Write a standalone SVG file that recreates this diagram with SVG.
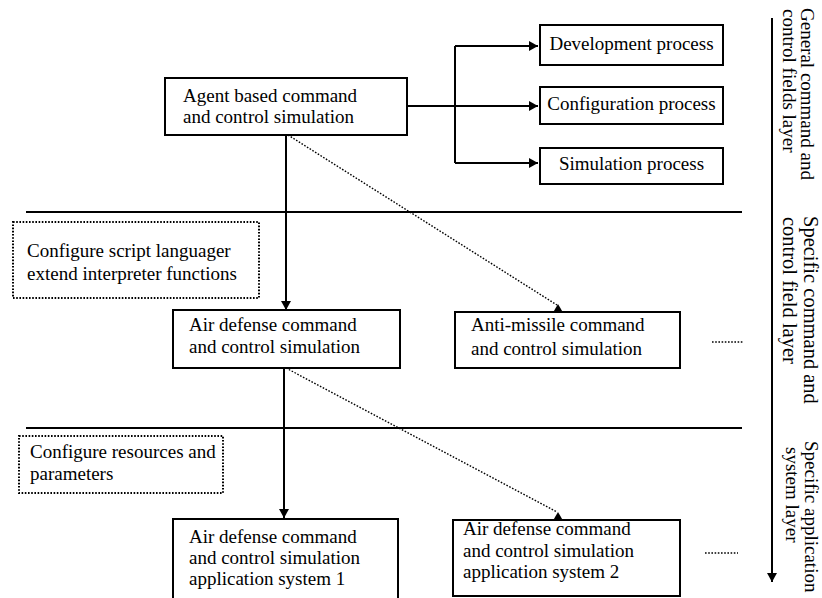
<svg xmlns="http://www.w3.org/2000/svg" width="822" height="598" viewBox="0 0 822 598">
<defs>
<style>
text{font-family:'Liberation Serif','DejaVu Serif',serif;font-size:19px;fill:#000}
.box{fill:#fff;stroke:#000;stroke-width:2}
.dbox{fill:none;stroke:#000;stroke-width:2;stroke-dasharray:1.6 1.6}
.ln{fill:none;stroke:#000;stroke-width:2}
.dot{fill:none;stroke:#000;stroke-width:1.4;stroke-dasharray:1.6 1.6}
.mid{text-anchor:middle}
.big{font-size:20.5px}
</style>
<marker id="ah" markerWidth="10" markerHeight="10" refX="9" refY="5" orient="auto" markerUnits="userSpaceOnUse">
<path d="M0,0 L9,5 L0,10 Z" fill="#000"/>
</marker>
</defs>
<rect width="822" height="598" fill="#fff"/>

<g id="layers" font-family="Liberation Serif, serif">
<line class="ln" x1="26" y1="212" x2="742" y2="212"/>
<line class="ln" x1="26" y1="428" x2="742" y2="428"/>
<line class="ln" x1="772" y1="18" x2="772" y2="582" marker-end="url(#ah)"/>
<text transform="translate(801,8) rotate(90)">General command and</text>
<text transform="translate(783,9) rotate(90)">control fields layer</text>
<text class="big" transform="translate(804,216) rotate(90)">Specific command and</text>
<text class="big" transform="translate(783,217) rotate(90)">control field layer</text>
<text transform="translate(805,441) rotate(90)">Specific application</text>
<text transform="translate(786,447) rotate(90)">system layer</text>
</g>

<g id="connectors">
<polyline class="ln" points="407,106 455,106"/>
<polyline class="ln" points="455,106 538,106" marker-end="url(#ah)"/>
<polyline class="ln" points="455,46 455,163"/>
<polyline class="ln" points="455,46 538,46" marker-end="url(#ah)"/>
<polyline class="ln" points="455,163 538,163" marker-end="url(#ah)"/>
<line class="ln" x1="286" y1="135" x2="286" y2="310" marker-end="url(#ah)"/>
<line class="ln" x1="284" y1="368" x2="284" y2="518" marker-end="url(#ah)"/>
<line class="dot" x1="288" y1="135" x2="557" y2="305"/>
<line class="dot" x1="286" y1="368" x2="557" y2="512"/>
<path d="M553,312.5 L563,312.5 L558,304 Z" fill="#000"/>
<path d="M553,520.5 L563,520.5 L558,512 Z" fill="#000"/>
<line class="dot" x1="712" y1="342" x2="743" y2="342"/>
<line class="dot" x1="705" y1="553" x2="738" y2="553"/>
</g>

<g id="agent">
<rect class="box" x="165" y="78" width="242" height="57"/>
<text x="183" y="102">Agent based command</text>
<text x="183" y="123">and control simulation</text>
</g>
<g id="development">
<rect class="box" x="540" y="25" width="183" height="40"/>
<text class="mid" x="631.5" y="50">Development process</text>
</g>
<g id="configuration">
<rect class="box" x="540" y="87" width="183" height="37"/>
<text class="mid" x="631.5" y="110">Configuration process</text>
</g>
<g id="simulation">
<rect class="box" x="540" y="148" width="183" height="36"/>
<text class="mid" x="631.5" y="170">Simulation process</text>
</g>
<g id="script">
<rect class="dbox" x="13" y="222" width="246" height="76"/>
<text x="27" y="257">Configure script languager</text>
<text x="27" y="280">extend interpreter functions</text>
</g>
<g id="airdefense">
<rect class="box" x="173" y="310" width="227" height="58"/>
<text x="189" y="331">Air defense command</text>
<text x="189" y="353">and control simulation</text>
</g>
<g id="antimissile">
<rect class="box" x="455" y="312" width="225" height="56"/>
<text x="471" y="331">Anti-missile command</text>
<text x="471" y="355">and control simulation</text>
</g>
<g id="resources">
<rect class="dbox" x="19" y="436" width="204" height="57"/>
<text x="30" y="458">Configure resources and</text>
<text x="30" y="480">parameters</text>
</g>
<g id="app1">
<rect class="box" x="173" y="519" width="225" height="81"/>
<text x="189" y="543">Air defense command</text>
<text x="189" y="564">and control simulation</text>
<text x="189" y="585">application system 1</text>
</g>
<g id="app2">
<rect class="box" x="453" y="520" width="227" height="76"/>
<text x="463" y="535">Air defense command</text>
<text x="463" y="557">and control simulation</text>
<text x="463" y="578">application system 2</text>
</g>
</svg>
